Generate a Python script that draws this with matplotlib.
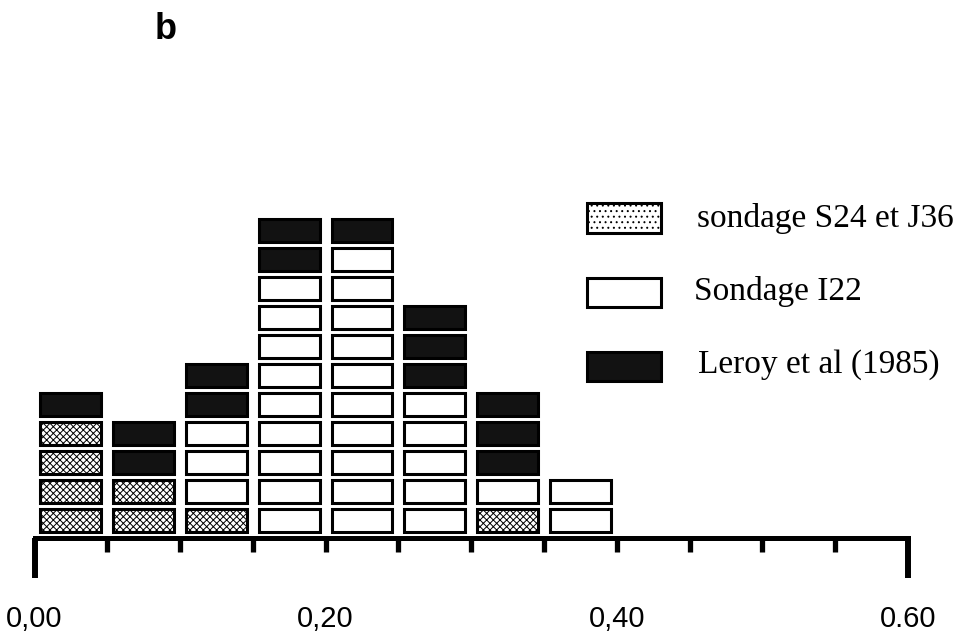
import matplotlib
matplotlib.use("Agg")
import matplotlib.pyplot as plt
from matplotlib.patches import Rectangle

# Données : nombre de cases par classe (largeur 0,05)
bin_left = [0.00, 0.05, 0.10, 0.15, 0.20, 0.25, 0.30, 0.35]
s24_j36 = [4, 2, 1, 0, 0, 0, 1, 0]
i22 = [0, 0, 3, 9, 10, 5, 1, 2]
leroy = [1, 2, 2, 2, 1, 3, 3, 0]

tick_labels = {0.0: "0,00", 0.2: "0,20", 0.4: "0,40", 0.6: "0.60"}
legend_labels = ["sondage S24 et J36", "Sondage I22", "Leroy et al (1985)"]

plt.rcParams['hatch.linewidth'] = 0.7

W, H = 965, 634
fig = plt.figure(figsize=(W / 100, H / 100), dpi=100)

# axes : x 0 -> 34.5 px, 0.6 -> 908 px ; y 0 -> 535 px (depuis le haut), 1 unité = 29 px
unit = 29.0
y0_px = 535.0
ymin, ymax = -0.2, 14
ax_left = 34.5 / W
ax_width = (908 - 34.5) / W
bottom_px = y0_px - ymin * unit
top_px = y0_px - ymax * unit
ax = fig.add_axes([ax_left, (H - bottom_px) / H, ax_width, (bottom_px - top_px) / H])
ax.set_xlim(0, 0.6)
ax.set_ylim(ymin, ymax)

# Cases empilées
bw = 0.05
box_w = 0.0418
box_h = 0.78
off = 0.12
styles = [
    dict(facecolor="white", hatch="xxxxx"),
    dict(facecolor="white"),
    dict(facecolor="#121212"),
]
level = [0] * len(bin_left)
for counts, st in zip([s24_j36, i22, leroy], styles):
    xs, bots = [], []
    for i, c in enumerate(counts):
        for k in range(c):
            xs.append(bin_left[i] + bw / 2)
            bots.append(level[i] + k + off)
        level[i] += c
    ax.bar(xs, box_h, width=box_w, bottom=bots, edgecolor="black",
           linewidth=2.2, **st)

# Axe
for s in ["top", "left", "right"]:
    ax.spines[s].set_visible(False)
ax.spines["bottom"].set_position(("data", -0.12))
ax.spines["bottom"].set_linewidth(3.6)
ax.set_yticks([])
ax.set_xticks([0.0, 0.6])
ax.set_xticklabels([])
ax.set_xticks([0.05 * i for i in range(1, 12)], minor=True)
ax.tick_params(axis="x", which="major", direction="out", length=28.5, width=4.3)
ax.tick_params(axis="x", which="minor", direction="out", length=10, width=3.8)

label_y = (y0_px - 627) / unit
for xv, txt in tick_labels.items():
    ax.text(xv, label_y, txt, ha="center", va="baseline", fontsize=21,
            family="Liberation Sans", clip_on=False)

# Légende
leg_boxes = [(201, 234), (277, 308), (350, 382)]
leg_base = [227, 300, 373]
leg_x = [697, 694, 698]
leg_styles = [
    dict(facecolor="white", hatch="..."),
    dict(facecolor="white"),
    dict(facecolor="#121212"),
]
for (t, b), base, tx, lab, st in zip(leg_boxes, leg_base, leg_x, legend_labels, leg_styles):
    r = Rectangle((586.5 / W, (H - b + 1.5) / H), 74 / W, (b - t - 3) / H,
                  transform=fig.transFigure, edgecolor="black", linewidth=2.2, **st)
    fig.patches.append(r)
    fig.text(tx / W, (H - base) / H, lab, ha="left", va="baseline", fontsize=24,
             family="Liberation Serif")

fig.text(166 / W, (H - 39) / H, "b", ha="center", va="baseline", fontsize=26,
         fontweight="bold", family="Liberation Sans")

fig.savefig("out.png", dpi=100)
